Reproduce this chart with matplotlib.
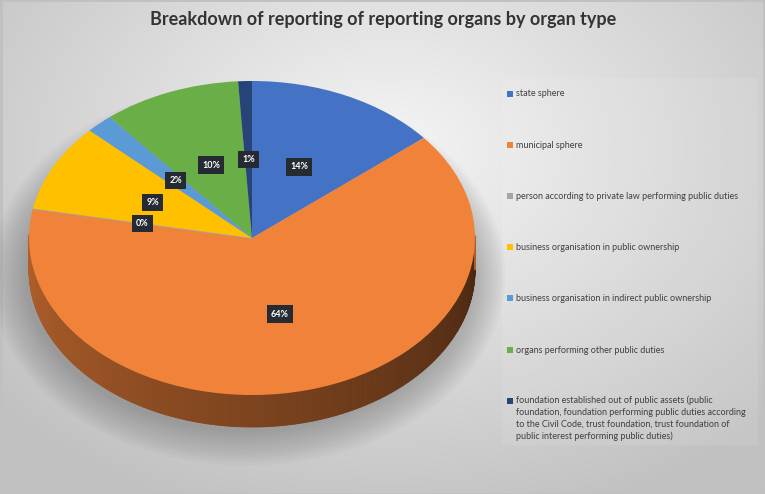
import numpy as np
import matplotlib
matplotlib.use("Agg")
import matplotlib.pyplot as plt
from matplotlib.patches import Polygon, Rectangle, Ellipse
import matplotlib.colors as mcolors

plt.rcParams['font.family'] = ['Lato', 'DejaVu Sans']

title = "Breakdown of reporting of reporting organs by organ type"
categories = [
    "state sphere",
    "municipal sphere",
    "person according to private law performing public duties",
    "business organisation in public ownership",
    "business organisation in indirect public ownership",
    "organs performing other public duties",
    "foundation established out of public assets (public\nfoundation, foundation performing public duties according\nto the Civil Code, trust foundation, trust foundation of\npublic interest performing public duties)",
]
values = [14, 64, 0, 9, 2, 10, 1]
colors = ["#4472C4", "#F0823A", "#A5A5A5", "#FFC000", "#5B9BD5", "#6AAE47", "#264478"]

W, H = 765, 494
fig = plt.figure(figsize=(W / 100, H / 100), dpi=100)

# background gradient
bg = fig.add_axes([0, 0, 1, 1])
yy, xx = np.mgrid[0:H, 0:W]
d = np.sqrt(((xx - 390) / 520.0) ** 2 + ((yy - 150) / 380.0) ** 2)
d = np.clip(d, 0, 1)
c0 = np.array([0.96, 0.96, 0.96])
c1 = np.array([0.76, 0.76, 0.76])
img = c0[None, None, :] * (1 - d[..., None]) + c1[None, None, :] * d[..., None]
bg.imshow(img, extent=[0, W, H, 0], aspect='auto', zorder=0)
bg.add_patch(Rectangle((502, 78), 256, 367, facecolor='white', alpha=0.09, edgecolor='none'))
bg.add_patch(Rectangle((0.5, 0.5), W - 1, H - 1, facecolor='none', edgecolor='#c0c0c0', lw=2))
bg.set_xlim(0, W)
bg.set_ylim(H, 0)
bg.axis('off')

# pie geometry (pixels)
cx, cy, a, b, depth, m = 252, 238, 223, 157, 32, 45
ax = fig.add_axes([(cx - a - m) / W, (H - (cy + b + depth + m)) / H,
                   (2 * a + 2 * m) / W, (2 * b + depth + 2 * m) / H])
ax.axis('off')
dd = depth / b

# soft shadow
for i in range(14):
    s = 1.0 + i * 0.012
    ax.add_patch(Ellipse((-0.02, -dd - 0.03), 2 * s, 2 * s * (1 + i * 0.004), facecolor='#606060',
                         alpha=0.035, edgecolor='none', zorder=1))

# side walls
tot = float(sum(values))
cum = 0.0
for v, col in zip(values, colors):
    t1 = 90 - 360 * cum / tot
    t2 = 90 - 360 * (cum + v) / tot
    cum += v
    if v == 0:
        continue
    ts = np.linspace(t2, t1, max(int(abs(t1 - t2)) * 2, 2))
    base = np.array(mcolors.to_rgb(col))
    for ta, tb in zip(ts[:-1], ts[1:]):
        tm = np.radians((ta + tb) / 2)
        if np.sin(tm) > 0.02:
            continue
        ang = ((ta + tb) / 2) % 360
        frac = np.clip((ang - 180) / 180.0, 0, 1)
        f = 0.74 - 0.44 * frac
        c = base * f
        ra, rb = np.radians(ta), np.radians(tb)
        poly = [(np.cos(ra), np.sin(ra)), (np.cos(rb), np.sin(rb)),
                (np.cos(rb), np.sin(rb) - dd), (np.cos(ra), np.sin(ra) - dd)]
        ax.add_patch(Polygon(poly, closed=True, facecolor=c, edgecolor=c, lw=0.6, zorder=2))

wedges, texts, autotexts = ax.pie(values, colors=colors, startangle=90, counterclock=False,
                                  autopct='%1.0f%%', pctdistance=0.5, radius=1,
                                  wedgeprops=dict(edgecolor='none', zorder=3),
                                  textprops=dict(color='white', fontsize=6.5, fontweight='bold'))
for w, v, col in zip(wedges, values, colors):
    w.set_zorder(3)
    if v == 0:
        w.set_edgecolor(col)
        w.set_linewidth(1.3)
for t in autotexts:
    t.set_zorder(6)
    t.set_bbox(dict(boxstyle='square,pad=0.45', facecolor='#262b33', edgecolor='none'))
ax.set_xlim(-1 - m / a, 1 + m / a)
ax.set_ylim(-1 - depth / b - m / b, 1 + m / b)
ax.set_aspect('auto')

# title
fig.text(383 / W, 1 - 19 / H, title, ha='center', va='center', fontsize=13,
         fontweight='bold', color='#333333')

# legend
ys = [94, 145, 196, 247, 298, 350, 401]
for lab, col, y in zip(categories, colors, ys):
    bg.add_patch(Rectangle((507, y - 3), 6, 6, facecolor=col, edgecolor='none', zorder=5))
    if '\n' in lab:
        bg.text(516, y - 5.5, lab, ha='left', va='top', fontsize=6.5, color='#404040',
                linespacing=1.38, zorder=5)
    else:
        bg.text(516, y, lab, ha='left', va='center', fontsize=6.5, color='#404040', zorder=5)

fig.savefig("out.png", dpi=100)
